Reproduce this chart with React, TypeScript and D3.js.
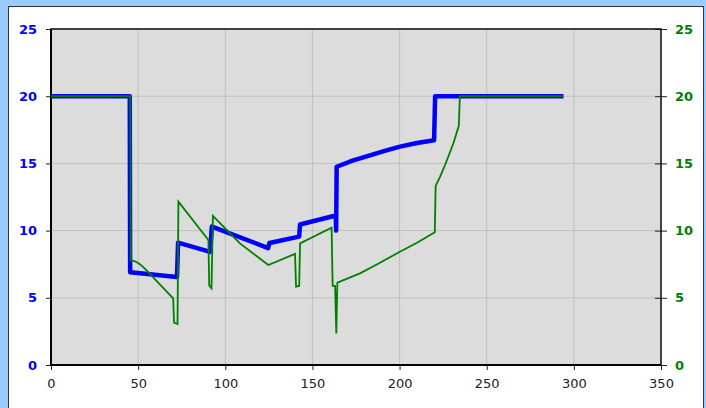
import React, { useEffect, useRef } from 'react'
import * as d3 from 'd3'

// blue series (left axis)
const blueX = [0, 45.2, 45.4, 72.3, 72.9, 91.3, 92.3, 124.6, 125.3, 142.4, 142.9, 163.4, 163.6, 163.9, 173, 183, 192, 200.2, 210, 219.8, 220.4, 294]
const blueY = [20, 20, 6.9, 6.55, 9.1, 8.42, 10.3, 8.7, 9.08, 9.55, 10.45, 11.12, 10.0, 14.75, 15.2, 15.6, 15.95, 16.25, 16.52, 16.72, 20, 20]

// green series (right axis)
const greenX = [
  0, 45.5, 45.8, 48.5, 51, 54, 70.1, 70.6, 72.6, 73.1, 90.3, 90.8, 92.1, 92.9, 100.8, 108.4, 124.7, 140, 140.6, 142.4,
  142.9, 161, 161.6, 163, 163.7, 164.3, 177.3, 188, 200.2, 210, 220.2, 220.7, 223.2, 226.1, 230.9, 234, 234.6, 294,
]
const greenY = [
  20, 20, 7.8, 7.7, 7.5, 7.15, 4.95, 3.15, 3.05, 12.15, 9.3, 5.9, 5.7, 11.1, 10.05, 9.05, 7.44, 8.27, 5.83, 5.88, 9.05,
  10.22, 5.88, 5.88, 2.35, 6.13, 6.82, 7.55, 8.43, 9.1, 9.87, 13.32, 14.0, 14.88, 16.5, 17.8, 20, 20,
]

const xTicks = [0, 50, 100, 150, 200, 250, 300, 350]
const yTicks = [0, 5, 10, 15, 20, 25]

const W = 706
const H = 408
const margin = { top: 29, right: 45, bottom: 43, left: 51 }

export default function App() {
  const svgRef = useRef(null)

  useEffect(() => {
    const width = W - margin.left - margin.right
    const height = H - margin.top - margin.bottom
    const svgEl = d3.select(svgRef.current)
    svgEl.selectAll('*').remove()

    // frame
    svgEl.append('rect').attr('width', W).attr('height', H).attr('fill', '#99CCFF')
    svgEl
      .append('rect')
      .attr('x', 8.5)
      .attr('y', 6.5)
      .attr('width', 695)
      .attr('height', 410)
      .attr('fill', 'white')
      .attr('stroke', '#333')
      .attr('stroke-width', 1)

    const svg = svgEl.append('g').attr('transform', `translate(${margin.left}, ${margin.top})`)

    const x = d3.scaleLinear().domain([0, 350]).range([0, width])
    const yL = d3.scaleLinear().domain([0, 25]).range([height, 0])
    const yR = d3.scaleLinear().domain([0, 25]).range([height, 0])

    svg.append('rect').attr('width', width).attr('height', height).attr('fill', '#DCDCDC')

    // grid
    svg
      .append('g')
      .selectAll('line')
      .data(xTicks)
      .enter()
      .append('line')
      .attr('x1', (d) => x(d))
      .attr('x2', (d) => x(d))
      .attr('y1', 0)
      .attr('y2', height)
      .attr('stroke', '#C0C0C0')
      .attr('stroke-width', 1)
    svg
      .append('g')
      .selectAll('line')
      .data(yTicks)
      .enter()
      .append('line')
      .attr('x1', 0)
      .attr('x2', width)
      .attr('y1', (d) => yL(d))
      .attr('y2', (d) => yL(d))
      .attr('stroke', '#C0C0C0')
      .attr('stroke-width', 1)

    const font = 'DejaVu Sans, Verdana, sans-serif'

    // left axis
    const left = svg.append('g').call(d3.axisLeft(yL).tickValues(yTicks).tickSize(5).tickPadding(9).tickSizeOuter(0))
    left.select('.domain').remove()
    left.selectAll('line').attr('stroke', '#222')
    left
      .selectAll('text')
      .attr('fill', '#0000FF')
      .attr('font-size', 13)
      .attr('font-weight', 'bold')
      .attr('font-family', font)

    // right axis
    const right = svg
      .append('g')
      .attr('transform', `translate(${width}, 0)`)
      .call(d3.axisRight(yR).tickValues(yTicks).tickSizeInner(6).tickSizeOuter(0).tickPadding(8))
    right.select('.domain').remove()
    right.selectAll('line').attr('stroke', '#222').attr('x1', -6)
    right
      .selectAll('text')
      .attr('fill', '#008000')
      .attr('font-size', 13)
      .attr('font-weight', 'bold')
      .attr('font-family', font)

    // bottom axis
    const bottom = svg
      .append('g')
      .attr('transform', `translate(0, ${height})`)
      .call(d3.axisBottom(x).tickValues(xTicks).tickSize(5).tickPadding(9).tickSizeOuter(0))
    bottom.select('.domain').remove()
    bottom.selectAll('line').attr('stroke', '#222')
    bottom.selectAll('text').attr('fill', '#222').attr('font-size', 13).attr('font-family', font)

    // plot border
    svg
      .append('rect')
      .attr('width', width)
      .attr('height', height)
      .attr('fill', 'none')
      .attr('stroke', '#111')
      .attr('stroke-width', 1.5)
    svg.append('line').attr('x1', 0).attr('x2', 0).attr('y1', 0).attr('y2', height).attr('stroke', '#000').attr('stroke-width', 2)
    svg.append('line').attr('x1', 0).attr('x2', width).attr('y1', height).attr('y2', height).attr('stroke', '#000').attr('stroke-width', 2)

    // series
    const blueLine = d3
      .line<number>()
      .x((d, i) => x(blueX[i]))
      .y((d) => yL(d))
    svg
      .append('path')
      .datum(blueY)
      .attr('fill', 'none')
      .attr('stroke', '#0000FF')
      .attr('stroke-width', 4.5)
      .attr('stroke-linejoin', 'round')
      .attr('d', blueLine)

    const greenLine = d3
      .line<number>()
      .x((d, i) => x(greenX[i]))
      .y((d) => yR(d))
    svg
      .append('path')
      .datum(greenY)
      .attr('fill', 'none')
      .attr('stroke', '#008000')
      .attr('stroke-width', 1.8)
      .attr('d', greenLine)
  }, [])

  return (
    <div style={{ position: 'absolute', left: 0, top: 0 }}>
      <svg ref={svgRef} width={W} height={H} style={{ display: 'block' }} />
    </div>
  )
}
